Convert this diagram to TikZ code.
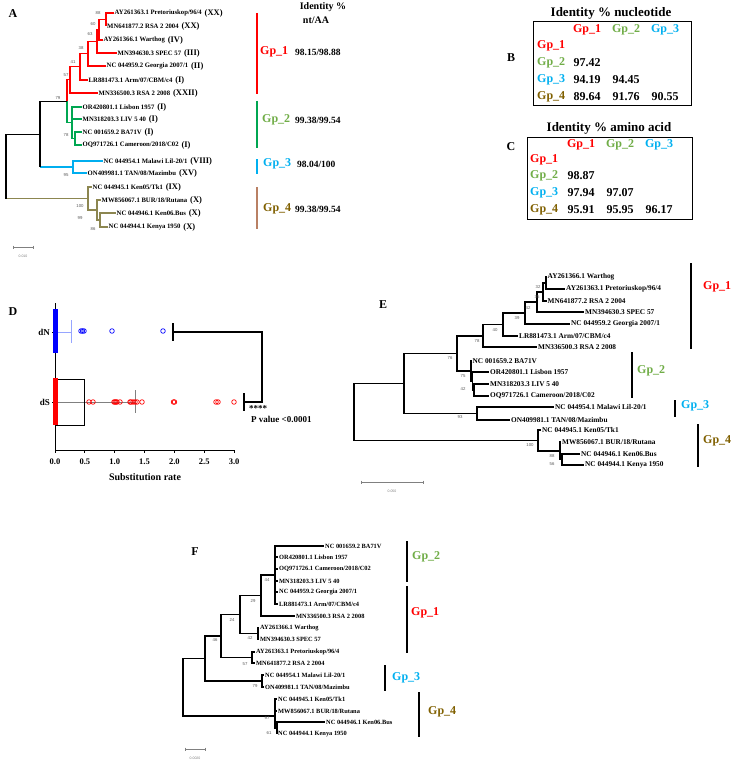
\documentclass[tikz,border=0pt]{standalone}
\usepackage{fontspec}
\setmainfont{Liberation Serif}
\setsansfont{Liberation Sans}
\usetikzlibrary{positioning}
\definecolor{gpone}{RGB}{255,0,0}
\definecolor{gptwo}{RGB}{112,173,71}
\definecolor{gpthree}{RGB}{0,176,240}
\definecolor{gpfour}{RGB}{128,96,0}
\definecolor{treegreen}{RGB}{0,166,81}
\definecolor{treeblue}{RGB}{0,174,239}
\definecolor{treeolive}{RGB}{140,134,80}
\definecolor{barbrown}{RGB}{185,128,100}
\definecolor{bootgray}{RGB}{90,90,90}
\definecolor{dnblue}{RGB}{0,0,255}
\definecolor{dsred}{RGB}{255,0,0}
\definecolor{whiskblue}{RGB}{150,165,255}

\begin{document}
\begin{tikzpicture}[x=1pt,y=-1pt,
  leaf/.style={anchor=west,inner sep=1pt,font=\fontsize{#1}{#1}\selectfont\bfseries},
  leaf/.default=6.7,
  sero/.style={anchor=west,inner sep=0pt,font=\fontsize{8.5}{9}\selectfont\bfseries},
  boot/.style={inner sep=0pt,text=bootgray,font=\sffamily\fontsize{4.3}{5}\selectfont},
  branch/.style={line width=1.1pt},
  gbar/.style={line width=1.4pt},
  glabel/.style={anchor=west,inner sep=0pt,font=\fontsize{12}{13}\selectfont\bfseries},
  idval/.style={anchor=west,inner sep=0pt,font=\fontsize{9.5}{10}\selectfont\bfseries},
  panel/.style={inner sep=0pt,font=\fontsize{12}{13}\selectfont\bfseries},
  cell/.style={inner sep=0pt,font=\fontsize{12}{13}\selectfont\bfseries},
  scalebar/.style={draw=gray,line width=0.6pt},
  scaletxt/.style={inner sep=0pt,text=gray,font=\sffamily\fontsize{3.5}{4}\selectfont},
  axistxt/.style={inner sep=0pt,font=\fontsize{8.5}{9}\selectfont\bfseries},
]
  \fill[white] (0,0) rectangle (735,765);
  \useasboundingbox (0,0) rectangle (735,765);

  % ---------------- A: tree with groups ----------------
  \node[panel] (labA) at (13,14) {A};
  \node[leaf] (la1) at (113.5,13) {AY261363.1 Pretoriuskop/96/4};
  \node[leaf] (la2) at (106,26) {MN641877.2 RSA 2 2004};
  \node[leaf] (la3) at (102.5,40) {AY261366.1 Warthog};
  \node[leaf] (la4) at (116.5,53) {MN394630.3 SPEC 57};
  \node[leaf] (la5) at (105.5,66) {NC 044959.2 Georgia 2007/1};
  \node[leaf] (la6) at (87.5,80) {LR881473.1 Arm/07/CBM/c4};
  \node[leaf] (la7) at (97.5,93) {MN336500.3 RSA 2 2008};
  \node[leaf] (la8) at (81.5,107) {OR420801.1 Lisbon 1957};
  \node[leaf] (la9) at (81.5,119) {MN318203.3 LIV 5 40};
  \node[leaf] (la10) at (81.5,132) {NC 001659.2 BA71V};
  \node[leaf] (la11) at (81.5,145) {OQ971726.1 Cameroon/2018/C02};
  \node[leaf] (la12) at (102.5,161) {NC 044954.1 Malawi Lil-20/1};
  \node[leaf] (la13) at (86.5,173) {ON409981.1 TAN/08/Mazimbu};
  \node[leaf] (la14) at (91.5,187) {NC 044945.1 Ken05/Tk1};
  \node[leaf] (la15) at (100.5,200) {MW856067.1 BUR/18/Rutana};
  \node[leaf] (la16) at (115.5,213) {NC 044946.1 Ken06.Bus};
  \node[leaf] (la17) at (107.5,227) {NC 044944.1 Kenya 1950};

  % genotypes
  \node[sero,right=1.5pt of la1] (ra1) {(XX)};
  \node[sero,right=1.5pt of la2] (ra2) {(XX)};
  \node[sero,right=1.5pt of la3] (ra3) {(IV)};
  \node[sero,right=1.5pt of la4] (ra4) {(III)};
  \node[sero,right=1.5pt of la5] (ra5) {(II)};
  \node[sero,right=1.5pt of la6] (ra6) {(I)};
  \node[sero,right=1.5pt of la7] (ra7) {(XXII)};
  \node[sero,right=1.5pt of la8] (ra8) {(I)};
  \node[sero,right=1.5pt of la9] (ra9) {(I)};
  \node[sero,right=1.5pt of la10] (ra10) {(I)};
  \node[sero,right=1.5pt of la11] (ra11) {(I)};
  \node[sero,right=1.5pt of la12] (ra12) {(VIII)};
  \node[sero,right=1.5pt of la13] (ra13) {(XV)};
  \node[sero,right=1.5pt of la14] (ra14) {(IX)};
  \node[sero,right=1.5pt of la15] (ra15) {(X)};
  \node[sero,right=1.5pt of la16] (ra16) {(X)};
  \node[sero,right=1.5pt of la17] (ra17) {(X)};

  % inner nodes
  \coordinate (a88) at (106,19.5);
  \coordinate (a60) at (99,29.75);
  \coordinate (a63) at (97,41.4);
  \coordinate (a38) at (88,53.7);
  \coordinate (a41) at (80,66.85);
  \coordinate (a57) at (70,79.9);
  \coordinate (a78) at (75,138.5);
  \coordinate (ag2) at (72,122.75);
  \coordinate (a79) at (67,101.3);
  \coordinate (a95) at (73,167);
  \coordinate (ax) at (40,134.2);
  \coordinate (a86) at (100,220);
  \coordinate (a99) at (97,210);
  \coordinate (a100) at (88,198.5);
  \coordinate (aroot) at (6,166.4);

  \draw[branch,gpone] (a88) |- (la1.west) (a88) |- (la2.west)
    (a60) |- (a88) (a60) |- (la3.west)
    (a63) |- (a60) (a63) |- (la4.west)
    (a38) |- (a63) (a38) |- (la5.west)
    (a41) |- (a38) (a41) |- (la6.west)
    (a57) |- (a41) (a57) |- (la7.west)
    (a79) |- (a57);
  \draw[branch,treegreen] (a78) |- (la10.west) (a78) |- (la11.west)
    (ag2) |- (la8.west) (ag2) |- (la9.west) (ag2) |- (a78)
    (a79) |- (ag2);
  \draw[branch,treeblue] (a95) |- (la12.west) (a95) |- (la13.west)
    (ax |- a95) -- (a95);
  \draw[branch] (a79) -| (ax) -- (ax |- a95);
  \draw[branch,treeolive] (a86) |- (la16.west) (a86) |- (la17.west)
    (a99) |- (la15.west) (a99) |- (a86)
    (a100) |- (la14.west) (a100) |- (a99)
    (aroot |- a100) -- (a100);
  \draw[branch] (aroot) |- (ax) (aroot) -- (aroot |- a100);

  \foreach \v/\x/\y [count=\i] in {88/98/13,60/93/24,63/90/34,38/81/48,41/73/62,57/66/75,
      79/58/98,78/66/135,95/66/175,100/80/206,99/80/218,86/93/229}
    \node[boot] (bA\i) at (\x,\y) {\v};

  \coordinate (sA1) at (13,247);
  \coordinate (sA2) at (33,247);
  \draw[scalebar] (sA1) -- (sA2) (sA1) ++(0,-1.5) -- ++(0,3) (sA2) ++(0,-1.5) -- ++(0,3);
  \node[scaletxt] (sAt) at (23,256) {0.010};

  % groups of A
  \node[inner sep=0pt,font=\fontsize{10}{11}\selectfont\bfseries] (idA) at (323,7) {Identity \%};
  \node[inner sep=0pt,font=\fontsize{10}{11}\selectfont\bfseries] (ntA) at (316,20) {nt/AA};
  \draw[gbar,gpone] (257,13) -- (257,94);
  \draw[gbar,treegreen] (257,101) -- (257,148);
  \draw[gbar,gpthree] (257,159) -- (257,174);
  \draw[gbar,barbrown] (257,187) -- (257,229);
  \node[glabel,text=gpone] (gA1) at (260,52) {Gp\_1};
  \node[glabel,text=gptwo] (gA2) at (262,120) {Gp\_2};
  \node[glabel,text=gpthree] (gA3) at (263,164) {Gp\_3};
  \node[glabel,text=gpfour] (gA4) at (263,209) {Gp\_4};
  \node[idval] (vA1) at (295,52) {98.15/98.88};
  \node[idval] (vA2) at (295,120) {99.38/99.54};
  \node[idval] (vA3) at (297,164) {98.04/100};
  \node[idval] (vA4) at (295,209) {99.38/99.54};

  % ---------------- B: nucleotide identity ----------------
  \node[panel] (labB) at (511,58) {B};
  \node[cell,font=\fontsize{13}{14}\selectfont\bfseries] (tB) at (611,13) {Identity \% nucleotide};
  \draw[line width=1pt] (533,22) rectangle (691,106);
  \node[cell,text=gpone] (hB1) at (587,30) {Gp\_1};
  \node[cell,text=gptwo] (hB2) at (626,30) {Gp\_2};
  \node[cell,text=gpthree] (hB3) at (665,30) {Gp\_3};
  \node[cell,text=gpone,anchor=west] (rB1) at (537,46) {Gp\_1};
  \node[cell,text=gptwo,anchor=west] (rB2) at (537,63) {Gp\_2};
  \node[cell,text=gpthree,anchor=west] (rB3) at (537,80) {Gp\_3};
  \node[cell,text=gpfour,anchor=west] (rB4) at (537,97) {Gp\_4};
  \node[cell] (cB21) at (587,63) {97.42};
  \node[cell] (cB31) at (587,80) {94.19};
  \node[cell] (cB32) at (626,80) {94.45};
  \node[cell] (cB41) at (587,97) {89.64};
  \node[cell] (cB42) at (626,97) {91.76};
  \node[cell] (cB43) at (665,97) {90.55};

  % ---------------- C: amino acid identity ----------------
  \node[panel] (labC) at (511,147) {C};
  \node[cell,font=\fontsize{13}{14}\selectfont\bfseries] (tC) at (609,128) {Identity \% amino acid};
  \draw[line width=1pt] (527,137) rectangle (692,219);
  \node[cell,text=gpone] (hC1) at (581,145) {Gp\_1};
  \node[cell,text=gptwo] (hC2) at (620,145) {Gp\_2};
  \node[cell,text=gpthree] (hC3) at (659,145) {Gp\_3};
  \node[cell,text=gpone,anchor=west] (rC1) at (530,160) {Gp\_1};
  \node[cell,text=gptwo,anchor=west] (rC2) at (530,176) {Gp\_2};
  \node[cell,text=gpthree,anchor=west] (rC3) at (530,193) {Gp\_3};
  \node[cell,text=gpfour,anchor=west] (rC4) at (530,210) {Gp\_4};
  \node[cell] (cC21) at (581,176) {98.87};
  \node[cell] (cC31) at (581,193) {97.94};
  \node[cell] (cC32) at (620,193) {97.07};
  \node[cell] (cC41) at (581,210) {95.91};
  \node[cell] (cC42) at (620,210) {95.95};
  \node[cell] (cC43) at (659,210) {96.17};

  % ---------------- D: dN / dS ----------------
  \node[panel] (labD) at (13,312) {D};
  \draw[line width=1pt] (55,303) -- (55,450) -- (234,450);
  \foreach \v/\t in {0/0.0,0.5/0.5,1/1.0,1.5/1.5,2/2.0,2.5/2.5,3/3.0} {
    \draw[line width=0.8pt] (55+59.7*\v,450) -- ++(0,3);
    \node[axistxt] (tk\t) at (55+59.7*\v,462) {\t};
  }
  \draw[line width=0.8pt] (52,332) -- (55,332) (52,402) -- (55,402);
  \node[axistxt,anchor=east,font=\fontsize{9}{10}\selectfont\bfseries] (ldN) at (50,332) {dN};
  \node[axistxt,anchor=east,font=\fontsize{9}{10}\selectfont\bfseries] (ldS) at (50,402) {dS};
  \node[inner sep=0pt,font=\fontsize{10}{11}\selectfont\bfseries] (xlab) at (145,477) {Substitution rate};
  % dN
  \draw[whiskblue,line width=0.8pt] (55,332) -- (71,332) (71,320) -- (71,343);
  \fill[dnblue] (52.5,309) rectangle (57.5,353);
  \foreach \x in {81,82.5,84,112,163}
    \draw[dnblue,line width=0.7pt] (\x,331) circle (2.3);
  % dS
  \draw[gray,line width=0.7pt] (55,402) -- (135,402) (135,390) -- (135,413);
  \draw[line width=1pt] (55,379) rectangle (84,425);
  \fill[dsred] (52.5,378) rectangle (57.5,425);
  \foreach \x in {89,93,114,115,116,117,120,130,131,133,135,137,142,173.5,174.5,216,218,234}
    \draw[dsred,line width=0.7pt] (\x,402) circle (2.3);
  % significance bracket
  \coordinate (bN) at (173,332);
  \coordinate (bS) at (244,402);
  \coordinate (bR) at (262,332);
  \draw[line width=1.1pt] (bN) -- (bR) |- (bS)
    (bN) ++(0,-9) -- ++(0,18) (bS) ++(0,-9) -- ++(0,18);
  \node[anchor=west,inner sep=0pt,font=\fontsize{9}{10}\selectfont\bfseries] (stars) at (249,409) {****};
  \node[anchor=west,inner sep=0pt,font=\fontsize{9}{10}\selectfont\bfseries] (pval) at (251,419) {P value <0.0001};

  % ---------------- E: tree ----------------
  \node[panel] (labE) at (383,305) {E};
  \node[leaf=7.3] (e1) at (546.5,277) {AY261366.1 Warthog};
  \node[leaf=7.3] (e2) at (565,289) {AY261363.1 Pretoriuskop/96/4};
  \node[leaf=7.3] (e3) at (546.5,301) {MN641877.2 RSA 2 2004};
  \node[leaf=7.3] (e4) at (584,312) {MN394630.3 SPEC 57};
  \node[leaf=7.3] (e5) at (570,324) {NC 044959.2 Georgia 2007/1};
  \node[leaf=7.3] (e6) at (518,336) {LR881473.1 Arm/07/CBM/c4};
  \node[leaf=7.3] (e7) at (537,347) {MN336500.3 RSA 2 2008};
  \node[leaf=7.3] (e8) at (471.5,361) {NC 001659.2 BA71V};
  \node[leaf=7.3] (e9) at (489,372) {OR420801.1 Lisbon 1957};
  \node[leaf=7.3] (e10) at (489,384) {MN318203.3 LIV 5 40};
  \node[leaf=7.3] (e11) at (489,396) {OQ971726.1 Cameroon/2018/C02};
  \node[leaf=7.3] (e12) at (554,407) {NC 044954.1 Malawi Lil-20/1};
  \node[leaf=7.3] (e13) at (510,420) {ON409981.1 TAN/08/Mazimbu};
  \node[leaf=7.3] (e14) at (541,430) {NC 044945.1 Ken05/Tk1};
  \node[leaf=7.3] (e15) at (561,442) {MW856067.1 BUR/18/Rutana};
  \node[leaf=7.3] (e16) at (580,454) {NC 044946.1 Ken06.Bus};
  \node[leaf=7.3] (e17) at (584,465) {NC 044944.1 Kenya 1950};

  \coordinate (m32) at (546,283);
  \coordinate (m35) at (543,292);
  \coordinate (m42) at (537,302);
  \coordinate (m39) at (525,313);
  \coordinate (m40) at (503,324.5);
  \coordinate (m78) at (483,336);
  \coordinate (m42b) at (474,390);
  \coordinate (m75) at (472.5,381);
  \coordinate (mg2) at (471,371);
  \coordinate (m76) at (457,353.5);
  \coordinate (m93) at (477,413.5);
  \coordinate (m123) at (404,383.5);
  \coordinate (m56) at (562,459.5);
  \coordinate (m88) at (560,451);
  \coordinate (m100) at (538,440.5);
  \coordinate (eroot) at (354,412);

  \draw[branch] (m32) |- (e1.west) (m32) |- (e2.west)
    (m35) |- (m32) (m35) |- (e3.west)
    (m42) |- (m35) (m42) |- (e4.west)
    (m39) |- (m42) (m39) |- (e5.west)
    (m40) |- (m39) (m40) |- (e6.west)
    (m78) |- (m40) (m78) |- (e7.west)
    (m42b) |- (e10.west) (m42b) |- (e11.west)
    (m75) |- (e9.west) (m75) |- (m42b)
    (mg2) |- (e8.west) (mg2) |- (m75)
    (m76) |- (m78) (m76) |- (mg2)
    (m93) |- (e12.west) (m93) |- (e13.west)
    (m123) |- (m76) (m123) |- (m93)
    (m56) |- (e16.west) (m56) |- (e17.west)
    (m88) |- (e15.west) (m88) |- (m56)
    (m100) |- (e14.west) (m100) |- (m88)
    (eroot) |- (m123) (eroot) |- (m100);

  \foreach \v/\x/\y [count=\i] in {32/538/287,35/537/297,42/528/308,39/517/318,40/495/330,78/477/341,
      76/450/358,75/463/376,42/463/389,93/460/417,100/530/445,88/552/456,56/552/464}
    \node[boot] (bE\i) at (\x,\y) {\v};

  \coordinate (sE1) at (361,482);
  \coordinate (sE2) at (423,482);
  \draw[scalebar] (sE1) -- (sE2) (sE1) ++(0,-1.5) -- ++(0,3) (sE2) ++(0,-1.5) -- ++(0,3);
  \node[scaletxt] (sEt) at (392,491) {0.050};

  \draw[gbar] (691,263) -- (691,349);
  \draw[gbar] (632,352) -- (632,398);
  \draw[gbar] (675,400) -- (675,417);
  \draw[gbar] (698,424) -- (698,467);
  \node[glabel,text=gpone] (gE1) at (703,287) {Gp\_1};
  \node[glabel,text=gptwo] (gE2) at (637,371) {Gp\_2};
  \node[glabel,text=gpthree] (gE3) at (681,406) {Gp\_3};
  \node[glabel,text=gpfour] (gE4) at (703,441) {Gp\_4};

  % ---------------- F: tree ----------------
  \node[panel] (labF) at (195,552) {F};
  \node[leaf=6.4] (f1) at (324,546) {NC 001659.2 BA71V};
  \node[leaf=6.4] (f2) at (278,557) {OR420801.1 Lisbon 1957};
  \node[leaf=6.4] (f3) at (278,569) {OQ971726.1 Cameroon/2018/C02};
  \node[leaf=6.4] (f4) at (278,581) {MN318203.3 LIV 5 40};
  \node[leaf=6.4] (f5) at (278,592) {NC 044959.2 Georgia 2007/1};
  \node[leaf=6.4] (f6) at (278,604) {LR881473.1 Arm/07/CBM/c4};
  \node[leaf=6.4] (f7) at (295,616) {MN336500.3 RSA 2 2008};
  \node[leaf=6.4] (f8) at (259,628) {AY261366.1 Warthog};
  \node[leaf=6.4] (f9) at (259,639) {MN394630.3 SPEC 57};
  \node[leaf=6.4] (f10) at (255,652) {AY261363.1 Pretoriuskop/96/4};
  \node[leaf=6.4] (f11) at (255,663) {MN641877.2 RSA 2 2004};
  \node[leaf=6.4] (f12) at (264,675) {NC 044954.1 Malawi Lil-20/1};
  \node[leaf=6.4] (f13) at (264,687) {ON409981.1 TAN/08/Mazimbu};
  \node[leaf=6.4] (f14) at (277,699) {NC 044945.1 Ken05/Tk1};
  \node[leaf=6.4] (f15) at (277,711) {MW856067.1 BUR/18/Rutana};
  \node[leaf=6.4] (f16) at (325,722) {NC 044946.1 Ken06.Bus};
  \node[leaf=6.4] (f17) at (277,734) {NC 044944.1 Kenya 1950};

  \coordinate (p44) at (275,575);
  \coordinate (p29) at (261,595.5);
  \coordinate (p42) at (258,633.5);
  \coordinate (p24) at (240,614.5);
  \coordinate (p57) at (252,657.5);
  \coordinate (p46) at (221,636);
  \coordinate (p79) at (262,681);
  \coordinate (p123) at (205,658.5);
  \coordinate (p61) at (277,728);
  \coordinate (p97) at (275,716);
  \coordinate (froot) at (183,687);

  \draw[branch] (p44) |- (f1.west) (p44) |- (f2.west) (p44) |- (f3.west)
    (p44) |- (f4.west) (p44) |- (f5.west) (p44) |- (f6.west)
    (p29) |- (p44) (p29) |- (f7.west)
    (p42) |- (f8.west) (p42) |- (f9.west)
    (p24) |- (p29) (p24) |- (p42)
    (p57) |- (f10.west) (p57) |- (f11.west)
    (p46) |- (p24) (p46) |- (p57)
    (p79) |- (f12.west) (p79) |- (f13.west)
    (p123) |- (p46) (p123) |- (p79)
    (p61) |- (f16.west) (p61) |- (f17.west)
    (p97) |- (f14.west) (p97) |- (f15.west) (p97) |- (p61)
    (froot) |- (p123) (froot) |- (p97);

  \foreach \v/\x/\y [count=\i] in {44/267/580,29/253/601,24/232/620,42/250/638,46/215/640,
      57/245/664,79/255/686,97/267/718,61/269/733}
    \node[boot] (bF\i) at (\x,\y) {\v};

  \coordinate (sF1) at (185,749);
  \coordinate (sF2) at (205,749);
  \draw[scalebar] (sF1) -- (sF2) (sF1) ++(0,-1.5) -- ++(0,3) (sF2) ++(0,-1.5) -- ++(0,3);
  \node[scaletxt] (sFt) at (195,758) {0.0020};

  \draw[gbar] (407,541) -- (407,582);
  \draw[gbar] (407,586) -- (407,653);
  \draw[gbar] (385,665) -- (385,691);
  \draw[gbar] (419,692) -- (419,737);
  \node[glabel,text=gptwo] (gF2) at (412,557) {Gp\_2};
  \node[glabel,text=gpone] (gF1) at (411,613) {Gp\_1};
  \node[glabel,text=gpthree] (gF3) at (392,678) {Gp\_3};
  \node[glabel,text=gpfour] (gF4) at (428,712) {Gp\_4};
\end{tikzpicture}
\end{document}
